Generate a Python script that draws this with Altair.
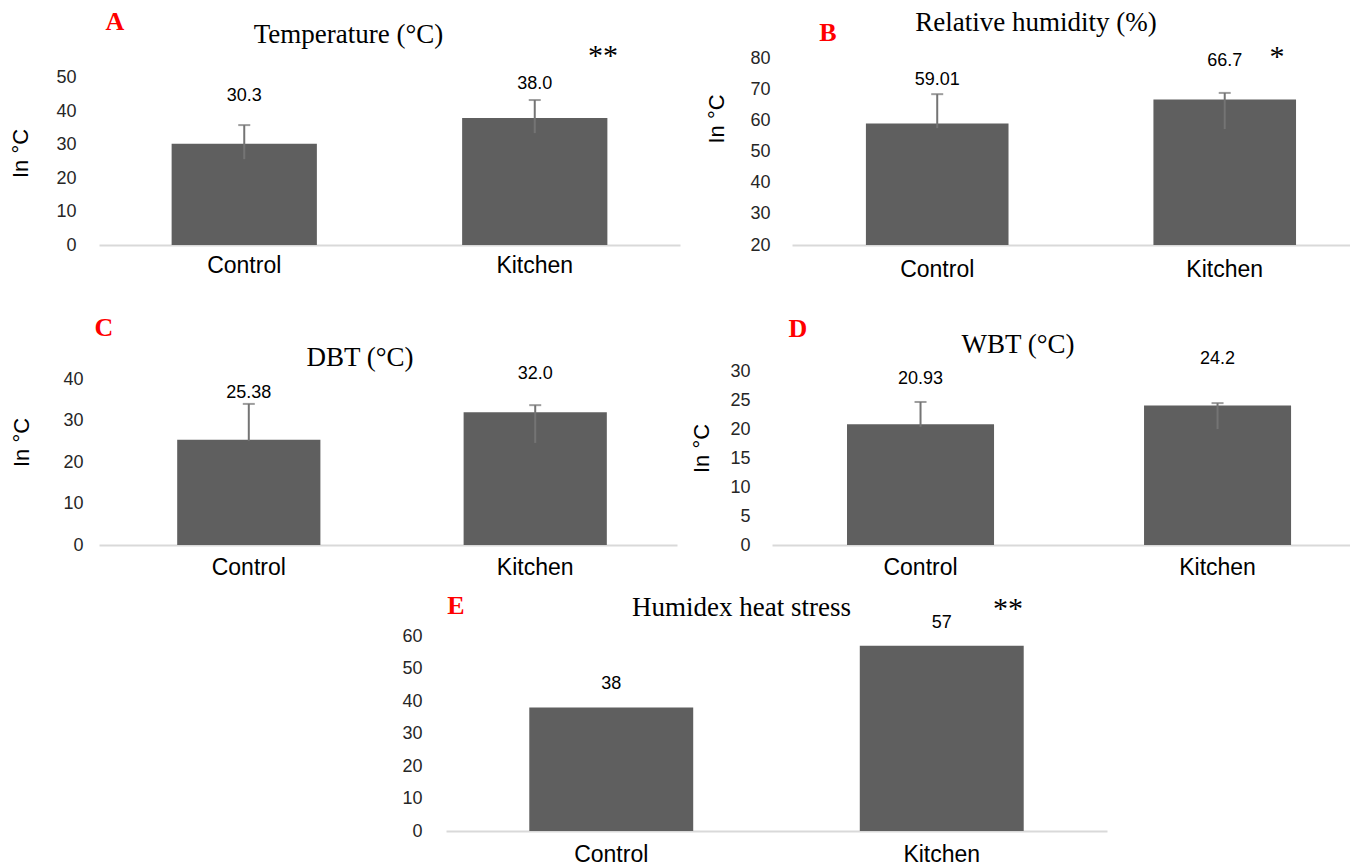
import altair as alt
import pandas as pd

# ---------------- data ----------------
groups = ["Control", "Kitchen"]

temp_mean = [30.3, 38.0]
temp_lo = [25.7, 33.5]
temp_hi = [35.9, 43.4]
temp_text = ["30.3", "38.0"]

rh_mean = [59.01, 66.7]
rh_lo = [57.5, 57.2]
rh_hi = [68.4, 68.8]
rh_text = ["59.01", "66.7"]

dbt_mean = [25.38, 32.0]
dbt_lo = [25.1, 24.6]
dbt_hi = [34.0, 33.7]
dbt_text = ["25.38", "32.0"]

wbt_mean = [20.93, 24.2]
wbt_lo = [20.5, 20.1]
wbt_hi = [24.8, 24.6]
wbt_text = ["20.93", "24.2"]

humidex_mean = [38, 57]
humidex_text = ["38", "57"]

# ---------------- styling ----------------
BAR = "#5f5f5f"
ERR = "#747474"
SANS = "Liberation Sans"
SERIF = "Liberation Serif"


def note(text, x, y, **kw):
    return alt.Chart(pd.DataFrame({"t": [text]})).mark_text(**kw).encode(
        text="t:N", x=alt.value(x), y=alt.value(y)
    )


def anchor(x0, x1, y0, y1):
    return alt.Chart(pd.DataFrame({"a": [0]})).mark_rect(opacity=0).encode(
        x=alt.value(x0), x2=alt.value(x1), y=alt.value(y0), y2=alt.value(y1)
    )


def panel(mean, text, label_y, lo, hi, *, base, ymax, ticks, width, height,
          pin, pout, align, ylab_pad, xlab_pad, ytitle, title_x, title_y,
          title, title_pos, letter, letter_pos, star=None, star_pos=None,
          anchor_box=None):
    df = pd.DataFrame({"group": groups, "mean": mean, "text": text,
                       "label_y": label_y, "base": [base] * len(groups)})
    if lo is not None:
        df["lo"] = lo
        df["hi"] = hi

    yaxis = dict(values=ticks, grid=False, domain=False, ticks=False, tickSize=0,
                 labelFont=SANS, labelFontSize=18, labelColor="#262626",
                 labelPadding=ylab_pad, labelFlush=False, labelOverlap=False,
                 labelSeparation=0)
    if ytitle:
        yaxis.update(title=ytitle, titleFont=SANS, titleFontSize=22,
                     titleFontWeight="normal", titleColor="#000000",
                     titleX=title_x, titleY=title_y, titleAngle=270,
                     titleAlign="center", titleBaseline="middle")
    else:
        yaxis.update(title=None)
    y_axis = alt.Axis(**yaxis)
    x_axis = alt.Axis(title=None, labelAngle=0, labelFont=SANS,
                      labelFontSize=23, labelColor="#000000",
                      labelPadding=xlab_pad, ticks=False, tickSize=0,
                      grid=False, domainColor="#d9d9d9", domainWidth=2)

    sc_x = alt.Scale(paddingInner=pin, paddingOuter=pout, align=align)
    sc_y = alt.Scale(domain=[base, ymax], nice=False, zero=False)
    x = alt.X("group:N", sort=groups, scale=sc_x, axis=x_axis)

    def Y(field):
        return alt.Y(field, scale=sc_y, axis=y_axis)

    base_c = alt.Chart(df)
    layers = [base_c.mark_bar(color=BAR).encode(x=x, y=Y("mean:Q"), y2="base:Q")]
    if lo is not None:
        layers.append(base_c.mark_rule(color=ERR, strokeWidth=2).encode(
            x=x, y=Y("lo:Q"), y2="hi:Q"))
        layers.append(base_c.mark_tick(color=ERR, thickness=2, size=12).encode(
            x=x, y=Y("hi:Q")))
    layers.append(base_c.mark_text(font=SANS, fontSize=18, color="#000000",
                                   baseline="middle").encode(
        x=x, y=Y("label_y:Q"), text="text:N"))
    layers.append(note(title, title_pos[0], title_pos[1], font=SERIF, fontSize=27,
                       color="#000000", align="center", baseline="alphabetic"))
    layers.append(note(letter, letter_pos[0], letter_pos[1], font=SERIF, fontSize=26,
                       fontWeight="bold", color="#ff0000", align="center",
                       baseline="alphabetic"))
    if star:
        layers.append(note(star, star_pos[0], star_pos[1], font=SERIF, fontSize=30,
                           color="#000000", align="center", baseline="alphabetic"))
    if anchor_box:
        layers.append(anchor(*anchor_box))
    return alt.layer(*layers).properties(width=width, height=height)


# row plot tops (page): 50, 340, 630 ; x-axis baselines: 244, 544, 830
pA = panel(temp_mean, temp_text, [44.6, 48.2], temp_lo, temp_hi,
           base=0, ymax=58.08, ticks=[0, 10, 20, 30, 40, 50], width=581, height=194,
           pin=0.5, pout=0.25, align=0.5, ylab_pad=23, xlab_pad=9,
           ytitle="In °C", title_x=-78.5, title_y=102,
           title="Temperature (°C)", title_pos=(249.5, -8),
           letter="A", letter_pos=(16, -21.4), star="**", star_pos=(504, 14),
           anchor_box=(-91, 0, -42, 0))

pB = panel(rh_mean, rh_text, [72.9, 79.0], rh_lo, rh_hi,
           base=20, ymax=82.25, ticks=[20, 30, 40, 50, 60, 70, 80], width=558, height=194,
           pin=0.504, pout=0.2224, align=0.578, ylab_pad=22, xlab_pad=13,
           ytitle="In °C", title_x=-76, title_y=67.5,
           title="Relative humidity (%)", title_pos=(244, -20),
           letter="B", letter_pos=(36, -10.4), star="*", star_pos=(485, 15))

pC = panel(dbt_mean, dbt_text, [36.6, 41.2], dbt_lo, dbt_hi,
           base=0, ymax=49.16, ticks=[0, 10, 20, 30, 40], width=578, height=204,
           pin=0.5, pout=0.259, align=0.527, ylab_pad=16, xlab_pad=11,
           ytitle="In °C", title_x=-78, title_y=101,
           title="DBT (°C)", title_pos=(261, 25),
           letter="C", letter_pos=(5, -5.4))

pD = panel(wbt_mean, wbt_text, [28.8, 32.25], wbt_lo, wbt_hi,
           base=0, ymax=35.37, ticks=[0, 5, 10, 15, 20, 25, 30], width=578, height=204,
           pin=0.505, pout=0.2255, align=0.56, ylab_pad=22, xlab_pad=11,
           ytitle="In °C", title_x=-71, title_y=107,
           title="WBT (°C)", title_pos=(246, 11.5),
           letter="D", letter_pos=(26, -4.4))

pE = panel(humidex_mean, humidex_text, [45.2, 64.0], None, None,
           base=0, ymax=61.54, ticks=[0, 10, 20, 30, 40, 50, 60], width=661, height=200,
           pin=0.504, pout=0.252, align=0.5, ylab_pad=24, xlab_pad=12,
           ytitle=None, title_x=0, title_y=0,
           title="Humidex heat stress", title_pos=(295.5, -15),
           letter="E", letter_pos=(10, -17.4), star="**", star_pos=(562, -13))

spacer = anchor(0, 1, 0, 1).properties(width=300, height=200)

row1 = alt.hconcat(pA, pB, spacing=112, bounds="flush")
row2 = alt.hconcat(pC, pD, spacing=95, bounds="flush")
row3 = alt.hconcat(spacer, pE, spacing=47, bounds="flush")

chart = alt.vconcat(row1, row2, row3, spacing=290, bounds="flush").properties(
    padding={"left": 0, "top": 0, "right": 0, "bottom": 0},
    background="white",
).configure_view(stroke=None)

chart.save("out.html", embed_options={"renderer": "svg", "actions": False})
